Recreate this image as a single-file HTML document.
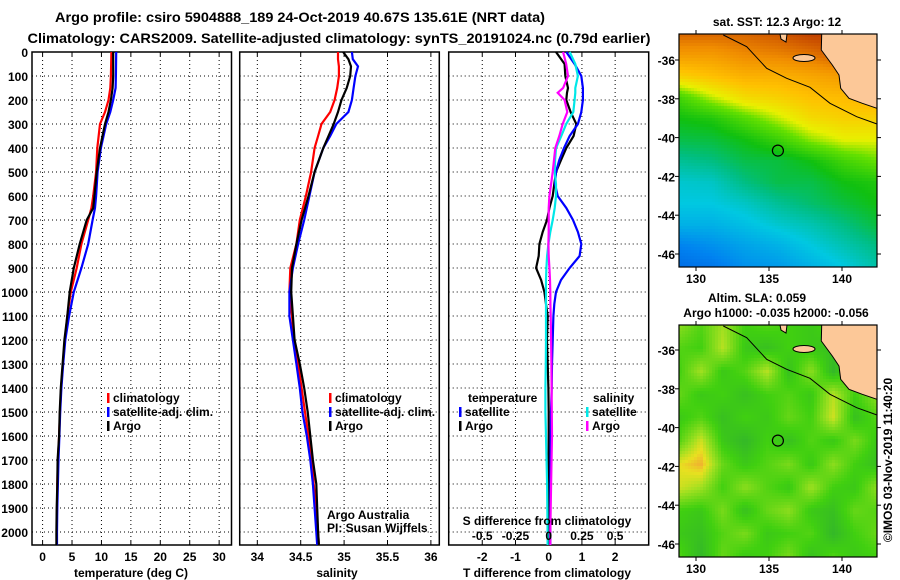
<!DOCTYPE html>
<html><head><meta charset="utf-8">
<style>
html,body{margin:0;padding:0;background:#fff;}
#wrap{position:relative;width:900px;height:580px;overflow:hidden;font-family:"Liberation Sans",sans-serif;}
svg text{font-family:"Liberation Sans",sans-serif;font-weight:bold;}
canvas{position:absolute;image-rendering:pixelated;}
</style></head>
<body>
<div id="wrap">
<canvas id="sstc" width="198" height="233" style="left:679px;top:34px;"></canvas>
<canvas id="slac" width="198" height="232" style="left:679px;top:325px;"></canvas>
<svg id="svg" width="900" height="580" style="position:absolute;left:0;top:0" xmlns="http://www.w3.org/2000/svg">
<text x="300" y="22" text-anchor="middle" font-size="14" textLength="490" lengthAdjust="spacingAndGlyphs">Argo profile: csiro 5904888_189 24-Oct-2019 40.67S 135.61E (NRT data)</text>
<text x="339" y="43" text-anchor="middle" font-size="14" textLength="623" lengthAdjust="spacingAndGlyphs">Climatology: CARS2009. Satellite-adjusted climatology: synTS_20191024.nc (0.79d earlier)</text>
<g id="g"></g>
</svg>
</div>
<script>
// ---------- profile data ----------
const depthT = [0,100,150,200,250,300,400,500,600,650,700,800,900,1000,1100,1200,1300,1400,1500,1600,1700,1800,1900,2000,2054];
const tempArgo = [12.0,12.0,11.9,11.6,11.2,10.6,9.75,9.2,8.8,8.6,7.5,6.3,5.3,4.6,4.2,3.7,3.4,3.1,2.9,2.8,2.55,2.5,2.4,2.35,2.35];
const tempClim = [11.7,11.6,11.5,11.2,10.6,9.75,9.3,9.1,8.6,8.3,7.75,6.6,5.8,4.8,4.2,3.8,3.45,3.15,2.95,2.8,2.6,2.5,2.45,2.4,2.4];
const tempSat = [12.5,12.45,12.4,12.0,11.5,10.8,9.9,9.35,9.1,8.9,8.5,7.75,6.6,5.3,4.5,3.85,3.5,3.2,3.0,2.85,2.7,2.6,2.5,2.45,2.45];
const depthS = [0,30,60,100,150,200,250,300,350,400,500,600,700,800,900,1000,1100,1200,1300,1400,1500,1600,1700,1800,1900,2000,2054];
const salArgo = [34.99,35.05,35.08,35.07,35.03,34.97,34.93,34.88,34.82,34.76,34.66,34.59,34.51,34.45,34.40,34.39,34.41,34.43,34.49,34.54,34.58,34.61,34.64,34.68,34.69,34.70,34.71];
const salClim = [34.93,34.93,34.94,34.94,34.92,34.89,34.84,34.74,34.70,34.66,34.62,34.56,34.49,34.45,34.38,34.37,34.40,34.42,34.47,34.51,34.55,34.59,34.63,34.65,34.68,34.70,34.71];
const salSat = [35.09,35.10,35.16,35.13,35.11,35.09,35.05,34.91,34.84,34.76,34.66,34.60,34.54,34.47,34.41,34.37,34.37,34.41,34.45,34.49,34.52,34.57,34.61,34.64,34.66,34.68,34.69];
const depthD = [0,50,100,150,170,200,250,300,350,400,450,500,550,600,650,700,750,800,850,900,950,1000,1050,1100,1200,1300,1400,1500,1600,1800,2000,2054];
const tdiffArgo = [0.22,0.48,0.5,0.58,0.55,0.53,0.66,0.83,0.75,0.53,0.37,0.22,0.17,0.12,0.02,-0.05,-0.18,-0.28,-0.3,-0.38,-0.23,-0.13,-0.08,-0.03,-0.05,-0.03,-0.01,0.0,0.0,0.0,0.0,0.0];
const tdiffSat = [0.53,0.78,0.98,1.03,1.03,1.03,0.98,0.88,0.63,0.46,0.32,0.22,0.19,0.27,0.53,0.73,0.88,0.98,0.93,0.63,0.37,0.22,0.17,0.14,0.12,0.1,0.09,0.07,0.06,0.05,0.05,0.05];
const sdiffSat = [0.158,0.2,0.22,0.2,0.2,0.195,0.185,0.132,0.095,0.055,0.048,0.045,0.055,0.055,0.045,0.03,0.012,-0.002,-0.012,-0.017,-0.02,-0.02,-0.02,-0.02,-0.02,-0.022,-0.025,-0.025,-0.02,-0.012,-0.008,-0.008];
const sdiffArgo = [0.108,0.132,0.145,0.108,0.068,0.12,0.14,0.105,0.08,0.05,0.04,0.03,0.018,0.005,0.0,0.0,0.0,-0.002,0.0,0.005,0.01,0.012,0.013,0.015,0.018,0.02,0.022,0.023,0.025,0.018,0.012,0.012];

const tempTicks = [0,5,10,15,20,25,30];
const salTicks = [34,34.5,35,35.5,36];
const salTickLabels = ["34","34.5","35","35.5","36"];
const tdTicks = [-2,-1,0,1,2];
const sdTicks = [-0.5,-0.25,0,0.25,0.5];
const sdTickLabels = ["-0.5","-0.25","0","0.25","0.5"];
const depthTicks = [0,100,200,300,400,500,600,700,800,900,1000,1100,1200,1300,1400,1500,1600,1700,1800,1900,2000];

// map data: coarse grids (rows north->south, cols west->east)
const sstGrid = [
[.90,.90,.90,.92,.95,.95,.95],
[.82,.82,.85,.86,.88,.92,.95],
[.72,.75,.78,.78,.80,.82,.85],
[.56,.64,.70,.72,.75,.76,.78],
[.50,.52,.58,.64,.70,.72,.72],
[.45,.46,.50,.55,.62,.66,.66],
[.38,.40,.45,.46,.50,.56,.60],
[.32,.33,.40,.45,.45,.50,.52],
[.30,.30,.33,.38,.42,.46,.50],
[.25,.25,.28,.32,.35,.40,.46],
[.15,.18,.22,.25,.30,.35,.40],
[.10,.12,.18,.20,.25,.30,.36]];
const slaGrid = [
[.70,.55,.75,.50,.55,.50,.45,.55,.50,.55],
[.55,.50,.80,.45,.40,.50,.45,.40,.55,.50],
[.50,.75,.45,.55,.80,.40,.70,.35,.60,.45],
[.60,.45,.50,.40,.50,.55,.45,.80,.50,.70],
[.45,.55,.40,.50,.45,.60,.50,.85,.40,.55],
[.55,.85,.45,.35,.50,.40,.55,.45,.65,.45],
[.90,1.0,.60,.45,.55,.65,.45,.70,.50,.40],
[.85,.75,.50,.70,.55,.45,.75,.50,.45,.70],
[.50,.45,.65,.40,.60,.70,.45,.40,.60,.55],
[.45,.40,.55,.65,.45,.50,.55,.35,.50,.60],
[.55,.35,.60,.45,.50,.65,.40,.55,.45,.50]];

const NS='http://www.w3.org/2000/svg';
const G=document.getElementById('g');
function el(tag,attrs,parent){const e=document.createElementNS(NS,tag);for(const k in attrs)e.setAttribute(k,attrs[k]);(parent||G).appendChild(e);return e;}
function txt(x,y,s,size,anchor,parent,weight){const t=el('text',{x:x,y:y,'font-size':size,'text-anchor':anchor||'middle'},parent);if(weight)t.setAttribute('font-weight',weight);t.textContent=s;return t;}

const TOP=52,BOT=545;
const yD=d=>TOP+d*0.24;

function panel(name,x0,x1,dmin,dmax){
  const g=el('g',{});
  
  
  const sx=v=>x0+(v-dmin)/(dmax-dmin)*(x1-x0);
  return {g,sx,x0,x1};
}
function grid(p,ticks){
  ticks.forEach(t=>{const x=p.sx(t);el('line',{x1:x,y1:TOP,x2:x,y2:BOT,stroke:'#000','stroke-dasharray':'1,3','stroke-width':1},p.g);
    el('line',{x1:x,y1:TOP,x2:x,y2:TOP+4,stroke:'#000'},p.g);el('line',{x1:x,y1:BOT,x2:x,y2:BOT-4,stroke:'#000'},p.g);});
  depthTicks.forEach(d=>{const y=yD(d);el('line',{x1:p.x0,y1:y,x2:p.x1,y2:y,stroke:'#000','stroke-dasharray':'1,3','stroke-width':1},p.g);});
  const r=el('rect',{x:p.x0,y:TOP,width:p.x1-p.x0,height:BOT-TOP,fill:'none',stroke:'#000','stroke-width':1.5},p.g);
  
}
function line(p,vals,depths,color,name){
  const pts=vals.map((v,i)=>p.sx(v).toFixed(1)+','+yD(depths[i]).toFixed(1)).join(' ');
  const l=el('polyline',{points:pts,fill:'none',stroke:color,'stroke-width':2.2,'stroke-linejoin':'miter'},p.g);
  
  
}
function legend(p,x,y,items){
  items.forEach((it,i)=>{
    const yy=y+i*14;
    const m=el('rect',{x:x,y:yy-9,width:2.5,height:10,fill:it[1]},p.g);
    
    const t=txt(x+6,yy,it[0],12,'start',p.g);
    
  });
}

// depth axis labels
depthTicks.forEach(d=>{const t=txt(28,yD(d)+5,String(d),12,'end');
  });

// temperature panel
const pT=panel('temperature-panel',32,231.5,-1.8,32.1);
grid(pT,tempTicks);
line(pT,tempClim,depthT,'#ff0000','temp-climatology-line');
line(pT,tempSat,depthT,'#0000ff','temp-satellite-line');
line(pT,tempArgo,depthT,'#000000','temp-argo-line');
tempTicks.forEach(t=>{const e=txt(pT.sx(t),561,String(t),12);});
{const e=txt(131,577,'temperature (deg C)',12);}
legend(pT,107,402,[['climatology','#ff0000'],['satellite-adj. clim.','#0000ff'],['Argo','#000']]);

// salinity panel
const pS=panel('salinity-panel',239.7,439.3,33.797,36.097);
grid(pS,salTicks);
line(pS,salClim,depthS,'#ff0000','sal-climatology-line');
line(pS,salSat,depthS,'#0000ff','sal-satellite-line');
line(pS,salArgo,depthS,'#000000','sal-argo-line');
salTicks.forEach((t,i)=>{const e=txt(pS.sx(t),561,salTickLabels[i],12);});
{const e=txt(337,577,'salinity',12);}
legend(pS,329,402,[['climatology','#ff0000'],['satellite-adj. clim.','#0000ff'],['Argo','#000']]);
{const a=txt(327,519,'Argo Australia',12,'start',pS.g,'normal');
 const b=txt(327,532,'PI: Susan Wijffels',12,'start',pS.g,'normal');}

// difference panel
const pD=panel('difference-panel',448.7,648.7,-3.01,3.01);
grid(pD,tdTicks);
const sx4=v=>v*4;
line(pD,tdiffArgo,depthD,'#000000','tdiff-argo-line');
line(pD,tdiffSat,depthD,'#0000ff','tdiff-satellite-line');
line(pD,sdiffSat.map(sx4),depthD,'#00e8e8','sdiff-satellite-line');
line(pD,sdiffArgo.map(sx4),depthD,'#ff00ff','sdiff-argo-line');
tdTicks.forEach(t=>{const e=txt(pD.sx(t),561,String(t),12);});
sdTicks.forEach((t,i)=>{const e=txt(pD.sx(t*4),540,sdTickLabels[i],12);});
{const e=txt(547,525,'S difference from climatology',12);
 const f=txt(547,577,'T difference from climatology',12);
 const h1=txt(468,402,'temperature',12,'start',pD.g);
 const h2=txt(593,402,'salinity',12,'start',pD.g);}
legend(pD,459,416,[['satellite','#0000ff'],['Argo','#000']]);
legend(pD,586,416,[['satellite','#00e8e8'],['Argo','#ff00ff']]);

// ---------- maps ----------
function lerpCol(stops,v){
  v=Math.max(0,Math.min(1,v));
  for(let i=0;i<stops.length-1;i++){const a=stops[i],b=stops[i+1];
    if(v<=b[0]){const t=(v-a[0])/(b[0]-a[0]);return [0,1,2].map(k=>Math.round(a[1][k]+(b[1][k]-a[1][k])*t));}}
  return stops[stops.length-1][1];
}
const sstStops=[[0,[0,70,210]],[0.15,[0,130,240]],[0.3,[0,200,225]],[0.4,[0,190,130]],[0.5,[16,192,16]],[0.6,[100,224,0]],[0.66,[232,240,0]],[0.75,[255,192,0]],[0.85,[240,140,0]],[0.95,[192,64,0]],[1,[170,40,0]]];
const slaStops=[[0,[40,150,64]],[0.3,[48,176,48]],[0.5,[64,208,16]],[0.75,[160,224,32]],[0.9,[232,224,32]],[1,[240,176,48]]];
function drawMap(id,gridv,stops,block){
  const c=document.getElementById(id),ctx=c.getContext('2d');
  const W=c.width,H=c.height,R=gridv.length,C=gridv[0].length;
  for(let y=0;y<H;y+=block)for(let x=0;x<W;x+=block){
    const gx=(x+block/2)/W*(C-1),gy=(y+block/2)/H*(R-1);
    const x0=Math.floor(gx),y0=Math.floor(gy),x1=Math.min(C-1,x0+1),y1=Math.min(R-1,y0+1),fx=gx-x0,fy=gy-y0;
    const v=gridv[y0][x0]*(1-fx)*(1-fy)+gridv[y0][x1]*fx*(1-fy)+gridv[y1][x0]*(1-fx)*fy+gridv[y1][x1]*fx*fy;
    const col=lerpCol(stops,v);
    ctx.fillStyle='rgb('+col.join(',')+')';ctx.fillRect(x,y,block,block);
  }
}
drawMap('sstc',sstGrid,sstStops,3);
drawMap('slac',slaGrid,slaStops,3);

const latTicks=[-36,-38,-40,-42,-44,-46];
const lonTicks=[130,135,140];
function mapOverlay(name,ox,oy,h,latAt36){
  const g=el('g',{transform:'translate('+ox+','+oy+')'});
  
  
  const lx=lon=>(lon-130)*14.6+17;
  const ly=lat=>latAt36+(-36-lat)*19.4;
  const land=el('polygon',{points:'142.7,0 142.3,16 153.3,31 160,41 161.7,54.3 170,64.3 183.3,69.3 198,74.3 198,0',fill:'#fcc898',stroke:'#000','stroke-width':1},g);
  
  el('ellipse',{cx:125,cy:24,rx:11,ry:3.5,fill:'#fcc898',stroke:'#000','stroke-width':1},g);
  el('polygon',{points:'101,0 108,0 107,8 102,5',fill:'#fcc898',stroke:'#000','stroke-width':1},g);
  const coast=el('polyline',{points:'44.3,1 67.7,12.7 87.7,34.3 107.7,44.3 131,53.3 151,69.3 177.7,82.7 198,90',fill:'none',stroke:'#000','stroke-width':1},g);
  
  const argo=el('circle',{cx:lx(135.61),cy:ly(-40.67),r:5.5,fill:'none',stroke:'#000','stroke-width':1.2},g);
  
  el('rect',{x:0,y:0,width:198,height:h,fill:'none',stroke:'#000','stroke-width':1.2},g);
  latTicks.forEach(l=>{const y=ly(l);el('line',{x1:0,y1:y,x2:-4,y2:y,stroke:'#000'},g);el('line',{x1:198,y1:y,x2:202,y2:y,stroke:'#000'},g);
    const t=txt(-4,y+5,String(l),12,'end',g);});
  lonTicks.forEach(l=>{const x=lx(l);el('line',{x1:x,y1:h,x2:x,y2:h+4,stroke:'#000'},g);el('line',{x1:x,y1:0,x2:x,y2:-4,stroke:'#000'},g);
    const t=txt(x,h+16,String(l),12,'middle',g);});
  return g;
}
mapOverlay('sst-map',679,34,233,26);
mapOverlay('sla-map',679,325,232,25);
{const a=txt(777,26,'sat. SST: 12.3 Argo: 12',12);
 const b=txt(757,302,'Altim. SLA: 0.059',12);
 const c=txt(776,317,'Argo h1000: -0.035 h2000: -0.056',12);
 const d=txt(0,0,'©IMOS 03-Nov-2019 11:40:20',12,'middle',G,'normal');d.setAttribute('transform','translate(892,460) rotate(-90)');
 }
</script>
</body></html>
